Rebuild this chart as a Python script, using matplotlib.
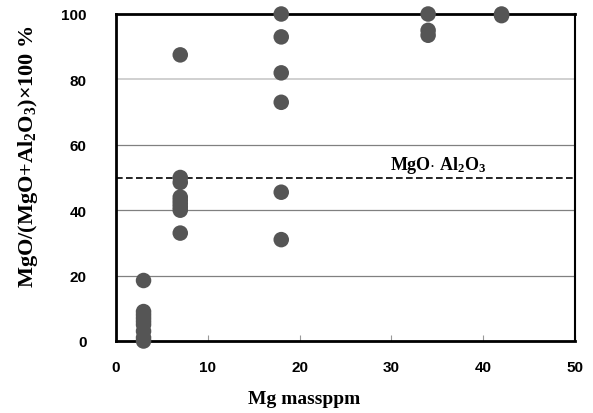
import matplotlib
matplotlib.use("Agg")
import matplotlib.pyplot as plt

x_vals = [3, 3, 3, 3, 3, 3, 3, 3, 3,
          7, 7, 7, 7, 7, 7, 7, 7, 7,
          18, 18, 18, 18, 18, 18,
          34, 34, 34,
          42, 42]
y_vals = [18.5, 9, 8, 7, 6, 5, 3, 1, 0,
          87.5, 50, 48.5, 44, 43, 42, 41, 40, 33,
          100, 93, 82, 73, 45.5, 31,
          100, 95, 93.5,
          100, 99.5]
spinel_level = 50
x_ticks = [0, 10, 20, 30, 40, 50]
y_ticks = [0, 20, 40, 60, 80, 100]

plt.rcParams['mathtext.fontset'] = 'custom'
plt.rcParams['mathtext.rm'] = 'Liberation Serif:bold'
plt.rcParams['mathtext.it'] = 'Liberation Serif:bold'
plt.rcParams['mathtext.bf'] = 'Liberation Serif:bold'

fig = plt.figure(figsize=(5.93, 4.14), dpi=100)
ax = fig.add_axes([116/593, 72/414, (575-116)/593, (342-15)/414])

for yv in [20, 40, 60]:
    ax.axhline(yv, color='#808080', lw=0.9, zorder=1)
ax.axhline(80, color='#c8c8c8', lw=1.2, zorder=1)
ax.axhline(spinel_level, color='black', lw=1.2, ls=(0, (4, 2)), zorder=2)

ax.scatter(x_vals, y_vals, s=125, color='#555555', edgecolors='none', zorder=4, clip_on=False)

ax.set_xlim(0, 50)
ax.set_ylim(0, 100)
ax.set_xticks(x_ticks)
ax.set_yticks(y_ticks)
ax.tick_params(axis='x', direction='in', length=4, width=0.8, color='#999999', pad=14)
ax.tick_params(axis='y', length=0, pad=21)
for lab in ax.get_xticklabels() + ax.get_yticklabels():
    lab.set_fontfamily('Liberation Sans')
    lab.set_fontweight('bold')
    lab.set_fontsize(11)
for sp in ax.spines.values():
    sp.set_linewidth(2)
    sp.set_color('black')
ax.spines['right'].set_linewidth(1.5)

ax.text(35.1, 52.6, r'MgO$\cdot$ Al$_2$O$_3$', ha='center', va='baseline',
        fontsize=13, fontfamily='Liberation Serif', fontweight='bold', zorder=5)

ax.set_xlabel('Mg massppm', fontsize=14, fontfamily='Liberation Serif', fontweight='bold')
ax.xaxis.set_label_coords((304-116)/459, (342-391)/327)
ax.set_ylabel(r'MgO/(MgO+Al$_2$O$_3$)×100 %', fontsize=16, fontfamily='Liberation Serif',
              fontweight='bold')
ax.yaxis.set_label_coords((40-116)/459, (342-157)/327)

fig.savefig('out.png', dpi=100)
